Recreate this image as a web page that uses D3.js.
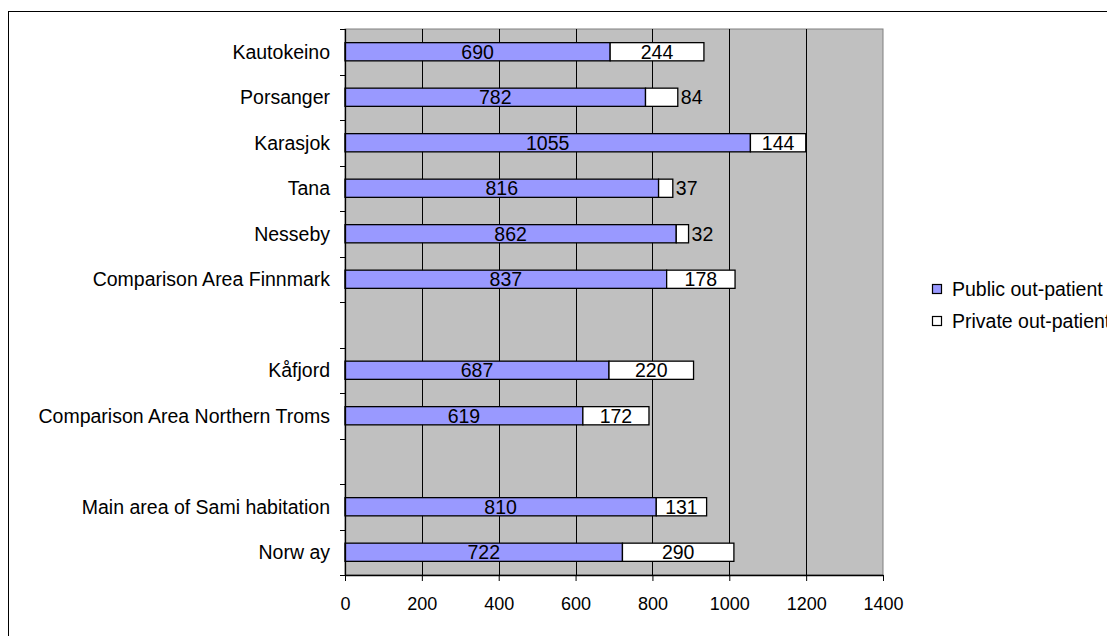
<!DOCTYPE html>
<html><head><meta charset="utf-8">
<script src="https://cdn.jsdelivr.net/npm/d3@7"></script>
<style>body{margin:0;background:#fff;} svg{display:block;font-family:"Liberation Sans",Arial,sans-serif;}</style>
</head><body>
<svg id="c" width="1107" height="636"></svg>
<script>
const categories = ["Kautokeino","Porsanger","Karasjok","Tana","Nesseby","Comparison Area Finnmark","","Kåfjord","Comparison Area Northern Troms"," ","Main area of Sami habitation","Norw ay"];
const publicVals = [690,782,1055,816,862,837,null,687,619,null,810,722];
const privateVals = [244,84,144,37,32,178,null,220,172,null,131,290];
const seriesNames = ["Public out-patient","Private out-patient"];
const xTicks = [0,200,400,600,800,1000,1200,1400];

const FS = 19.5;
const svg = d3.select("#c");
svg.append("rect").attr("x",8.5).attr("y",11.5).attr("width",1200).attr("height",700)
  .attr("fill","none").attr("stroke","#000").attr("stroke-width",1);

const L=345, R=883, T=29, B=575;
const x = d3.scaleLinear().domain([0,1400]).range([L,R]);
const yb = d3.scaleBand().domain(categories).range([T,B]);

svg.append("rect").attr("x",L).attr("y",T).attr("width",R-L).attr("height",B-T).attr("fill","#C0C0C0")
  .attr("stroke","#808080").attr("stroke-width",1);

// grid
svg.append("g").selectAll("line").data(xTicks.slice(1,-1)).join("line")
  .attr("x1",d=>Math.round(x(d))+0.5).attr("x2",d=>Math.round(x(d))+0.5).attr("y1",T).attr("y2",B)
  .attr("stroke","#000").attr("stroke-width",1);

const data = categories.map((c,i)=>({c,p:publicVals[i],q:privateVals[i]})).filter(d=>d.p!=null);
const bh = yb.bandwidth()/2.5;
const yc = d=>yb(d.c)+yb.bandwidth()/2;

const g = svg.append("g");
g.selectAll("rect.pub").data(data).join("rect").attr("class","pub")
  .attr("x",x(0)).attr("y",d=>yc(d)-bh/2).attr("width",d=>x(d.p)-x(0)).attr("height",bh)
  .attr("fill","#9999FF").attr("stroke","#000").attr("stroke-width",1.3);
g.selectAll("rect.prv").data(data).join("rect").attr("class","prv")
  .attr("x",d=>x(d.p)).attr("y",d=>yc(d)-bh/2).attr("width",d=>x(d.p+d.q)-x(d.p)).attr("height",bh)
  .attr("fill","#FFFFFF").attr("stroke","#000").attr("stroke-width",1.3);

g.selectAll("text.pl").data(data).join("text").attr("class","pl")
  .attr("x",d=>(x(0)+x(d.p))/2).attr("y",d=>yc(d)).attr("dy","0.36em")
  .attr("text-anchor","middle").attr("font-size",FS).attr("fill","#000").text(d=>d.p);
g.selectAll("text.ql").data(data).join("text").attr("class","ql")
  .attr("x",d=>d.q<100 ? x(d.p+d.q)+3 : (x(d.p)+x(d.p+d.q))/2).attr("y",d=>yc(d)).attr("dy","0.36em")
  .attr("text-anchor",d=>d.q<100?"start":"middle").attr("font-size",FS).attr("fill","#000").text(d=>d.q);

// y axis
svg.append("line").attr("x1",L+0.5).attr("x2",L+0.5).attr("y1",T).attr("y2",B).attr("stroke","#000").attr("stroke-width",1.3);
const bounds = d3.range(categories.length+1).map(i=>T+i*yb.step());
svg.append("g").selectAll("line").data(bounds).join("line")
  .attr("x1",L-5).attr("x2",L).attr("y1",d=>Math.round(d)+0.5).attr("y2",d=>Math.round(d)+0.5).attr("stroke","#000");
svg.append("g").selectAll("text").data(categories).join("text")
  .attr("x",330).attr("y",d=>yb(d)+yb.bandwidth()/2).attr("dy","0.36em").attr("text-anchor","end")
  .attr("font-size",FS).attr("fill","#000").text(d=>d.trim());

// x axis
const xa = svg.append("g").attr("transform",`translate(0,${B})`)
  .call(d3.axisBottom(x).tickValues(xTicks).tickSize(6).tickSizeOuter(0).tickFormat(d3.format("d")));
xa.select(".domain").attr("stroke","#000").attr("stroke-width",1.3);
xa.selectAll("text").attr("font-size",18).attr("fill","#000").attr("y",29).attr("dy","0.36em").attr("font-family","Liberation Sans, Arial, sans-serif");

// legend
const leg = svg.append("g");
const ly=[289,321], cols=["#9999FF","#FFFFFF"];
seriesNames.forEach((n,i)=>{
  leg.append("rect").attr("x",932.5).attr("y",ly[i]-4.5).attr("width",9).attr("height",9).attr("fill",cols[i]).attr("stroke","#000").attr("stroke-width",1.2);
  leg.append("text").attr("x",952).attr("y",ly[i]).attr("dy","0.36em").attr("font-size",FS).attr("fill","#000").text(n);
});
</script>
</body></html>
